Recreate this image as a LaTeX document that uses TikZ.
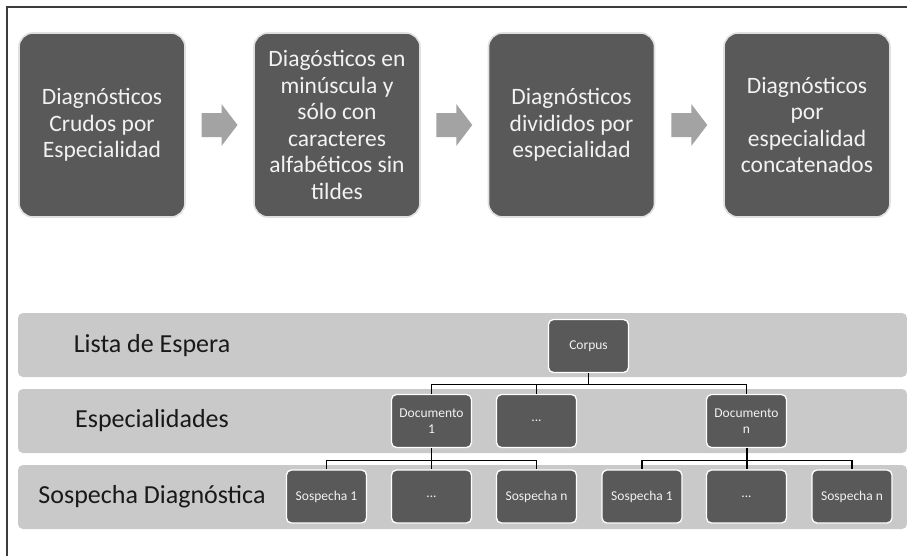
\documentclass[tikz,border=0pt]{standalone}
\usepackage{fontspec}
\setmainfont{Carlito}
\usetikzlibrary{calc}
\definecolor{boxgray}{HTML}{595959}
\definecolor{bandgray}{HTML}{C9C9C9}
\definecolor{arrowgray}{HTML}{A3A3A3}
\definecolor{framegray}{HTML}{3C3C3C}
\definecolor{txtlight}{HTML}{F2F2F2}
\tikzset{
  bigbox/.style={rounded corners=14pt, fill=boxgray, draw=white!88!black, line width=1.6pt,
    minimum width=166pt, minimum height=184pt, inner sep=0pt, text=txtlight, align=center,
    font=\fontsize{23.5}{26.5}\selectfont},
  flowarrow/.style={fill=arrowgray, draw=none},
  band/.style={rounded corners=5pt, fill=bandgray, draw=none, minimum width=889pt, minimum height=64pt, inner sep=0pt},
  bandlabel/.style={text=black!90, font=\fontsize{26}{30}\selectfont, inner sep=0pt},
  smallbox/.style={rounded corners=5pt, fill=boxgray, draw=white, line width=1.3pt,
    minimum width=80pt, minimum height=53pt, inner sep=1pt, text=txtlight, align=center,
    font=\fontsize{13.5}{16}\selectfont},
  conn/.style={draw=black, line width=1.1pt}
}
\newcommand{\blockarrow}[1]{%
  \fill[flowarrow] ($(#1)+(-18,-12)$) -- ($(#1)+(2,-12)$) -- ($(#1)+(2,-21)$) -- ($(#1)+(18,0)$)
    -- ($(#1)+(2,21)$) -- ($(#1)+(2,12)$) -- ($(#1)+(-18,12)$) -- cycle;}
\begin{document}
\begin{tikzpicture}[x=1pt,y=-1pt]
\useasboundingbox (0,0) rectangle (907,555);
\fill[white] (0,0) rectangle (907,555);
% frame
\draw[framegray, line width=1.5pt] (7,556) -- (7,7) -- (908,7);
% top flow
\node[bigbox] (b1) at (102,125) {Diagnósticos\\Crudos por\\Especialidad};
\node[bigbox] (b2) at (337,125) {Diagósticos en\\minúscula y\\sólo con\\caracteres\\alfabéticos sin\\tildes};
\node[bigbox] (b3) at (571.5,125) {Diagnósticos\\divididos por\\especialidad};
\node[bigbox] (b4) at (807,125) {Diagnósticos\\por\\especialidad\\concatenados};
\coordinate (m1) at ($(b1.east)!0.5!(b2.west)$);
\coordinate (m2) at ($(b2.east)!0.5!(b3.west)$);
\coordinate (m3) at ($(b3.east)!0.5!(b4.west)$);
\blockarrow{m1}
\blockarrow{m2}
\blockarrow{m3}
% bands
\node[band] (band1) at (462.5,345) {};
\node[band] (band2) at (462.5,421) {};
\node[band] (band3) at (462.5,497) {};
\node[bandlabel] (l1) at (152,346) {Lista de Espera};
\node[bandlabel] (l2) at (152,421) {Especialidades};
\node[bandlabel] (l3) at (152,497) {Sospecha Diagnóstica};
% hierarchy
\node[smallbox] (corpus) at (588.5,346) {Corpus};
\node[smallbox] (doc1) at (431.5,421) {Documento\\1};
\node[smallbox] (dots1) at (536.5,421) {...};
\node[smallbox] (docn) at (746.5,421) {Documento\\n};
\node[smallbox] (s11) at (326.5,496.5) {Sospecha 1};
\node[smallbox] (s12) at (431.5,496.5) {...};
\node[smallbox] (s1n) at (536.5,496.5) {Sospecha n};
\node[smallbox] (sn1) at (642,496.5) {Sospecha 1};
\node[smallbox] (sn2) at (746.5,496.5) {...};
\node[smallbox] (snn) at (852,496.5) {Sospecha n};
% connectors
\draw[conn] (corpus.south) -- ++(0,11) coordinate (j0);
\draw[conn] (j0) -| (doc1.north);
\draw[conn] (j0) -| (dots1.north);
\draw[conn] (j0) -| (docn.north);
\draw[conn] (doc1.south) -- ++(0,12) coordinate (j1);
\draw[conn] (j1) -| (s11.north);
\draw[conn] (j1) -| (s12.north);
\draw[conn] (j1) -| (s1n.north);
\draw[conn] (docn.south) -- ++(0,12) coordinate (j2);
\draw[conn] (j2) -| (sn1.north);
\draw[conn] (j2) -| (sn2.north);
\draw[conn] (j2) -| (snn.north);
\draw[conn, line width=2pt] (docn.south) -- (sn2.north);
\end{tikzpicture}
\end{document}
